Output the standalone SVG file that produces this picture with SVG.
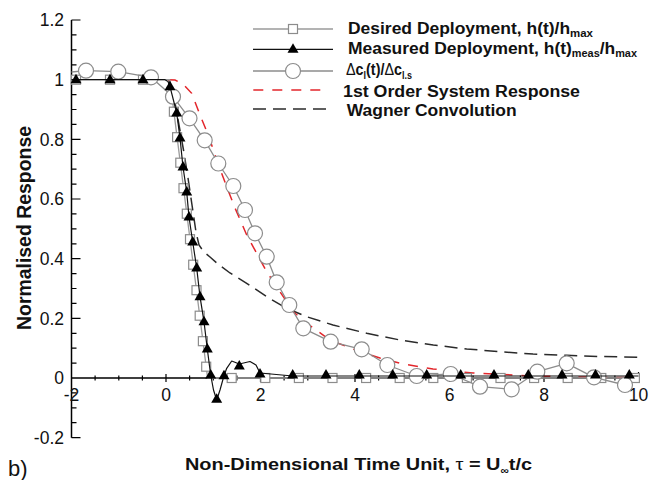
<svg xmlns="http://www.w3.org/2000/svg" xmlns:xlink="http://www.w3.org/1999/xlink" width="651" height="480" viewBox="0 0 651 480">
<style>
text{font-family:"Liberation Sans",Arial,sans-serif;fill:#111}
.tick{font-size:17.5px}
.title{font-weight:bold}
.leg{font-size:16px;font-weight:bold}
.axis{stroke:#000;stroke-width:1.5;fill:none}
.tk{stroke:#000;stroke-width:1.2;fill:none}
.ldes{stroke:#9a9a9a;stroke-width:1.3;fill:none;stroke-linejoin:round}
.lmeas{stroke:#111;stroke-width:1.2;fill:none;stroke-linejoin:round}
.ldcl{stroke:#8c8c8c;stroke-width:1.3;fill:none;stroke-linejoin:round}
.lfirst{stroke:#e3262b;stroke-width:1.5;fill:none;stroke-dasharray:10 9}
.lwag{stroke:#2a2a2a;stroke-width:1.5;fill:none;stroke-dasharray:13 7}
.msq{fill:#fff;stroke:#8c8c8c;stroke-width:1.2}
.mci{fill:#fff;stroke:#8c8c8c;stroke-width:1.2}
.mtr{fill:#000}
</style>
<defs>
<rect id="sq" x="-4.5" y="-4.5" width="9" height="9"/>
<circle id="ci" r="7.5"/>
<path id="tr" d="M0,-6 L5.5,3.5 L-5.5,3.5 Z"/>
</defs>

<g id="axes">
<path class="axis" d="M71.5,20 V437.7 M71.5,378 H640"/>
<path class="tk" d="M71.5,20 h9 M71.5,79.7 h9 M71.5,139.4 h9 M71.5,199 h9 M71.5,258.7 h9 M71.5,318.3 h9 M71.5,437.7 h9
M71.5,34.9 h5 M71.5,49.9 h5 M71.5,64.8 h5 M71.5,94.6 h5 M71.5,109.5 h5 M71.5,124.4 h5 M71.5,154.3 h5 M71.5,169.2 h5 M71.5,184.1 h5 M71.5,213.9 h5 M71.5,228.9 h5 M71.5,243.8 h5 M71.5,273.6 h5 M71.5,288.5 h5 M71.5,303.4 h5 M71.5,333.3 h5 M71.5,348.2 h5 M71.5,363.1 h5 M71.5,392.9 h5 M71.5,407.8 h5 M71.5,422.7 h5
M166,374 v8 M260.5,374 v8 M355,374 v8 M449.5,374 v8 M544,374 v8 M638.5,372 v9
M95.1,375.5 v5 M118.8,375.5 v5 M142.4,375.5 v5 M189.6,375.5 v5 M213.3,375.5 v5 M236.9,375.5 v5 M284.1,375.5 v5 M307.8,375.5 v5 M331.4,375.5 v5 M378.6,375.5 v5 M402.3,375.5 v5 M425.9,375.5 v5 M473.1,375.5 v5 M496.8,375.5 v5 M520.4,375.5 v5 M567.6,375.5 v5 M591.3,375.5 v5 M614.9,375.5 v5"/>
<g class="tick" text-anchor="end">
<text x="64" y="26.3">1.2</text>
<text x="64" y="86">1</text>
<text x="64" y="145.7">0.8</text>
<text x="64" y="205.3">0.6</text>
<text x="64" y="265">0.4</text>
<text x="64" y="324.6">0.2</text>
<text x="64" y="384.3">0</text>
<text x="64" y="444">-0.2</text>
</g>
<g class="tick" text-anchor="middle">
<text x="71.5" y="400.5">-2</text>
<text x="166" y="400.5">0</text>
<text x="260.5" y="400.5">2</text>
<text x="355" y="400.5">4</text>
<text x="449.5" y="400.5">6</text>
<text x="544" y="400.5">8</text>
<text x="638.5" y="400.5">10</text>
</g>
<text class="title" font-size="20" transform="rotate(-90)" x="-228" y="31" text-anchor="middle" textLength="204" lengthAdjust="spacingAndGlyphs">Normalised Response</text>
<text class="title" font-size="17" x="185" y="470" textLength="347" lengthAdjust="spacingAndGlyphs">Non-Dimensional Time Unit, <tspan font-weight="normal">τ</tspan> = U<tspan font-size="10" dy="4">∞</tspan><tspan dy="-4">t/c</tspan></text>
<text x="8" y="476" font-size="22">b)</text>
</g>

<g id="curve-wagner">
<polyline class="lwag" points="169,79.7 174.5,100 179,125 183.5,150 188,178 192,205 196,232 199,245 203.5,251.5 210,257 218,264 230,273 246.7,283.3 266.7,296.7 286.7,308.3 306.7,316.7 333,325 366.7,333.3 400,340 433.3,345 466.7,349 500,351.7 533,354 566.7,355.3 600,356.5 638.5,357.3"/>
</g>

<g id="curve-first-order">
<polyline class="lfirst" points="168,79.7 175,80 183,84 191.7,93.3 200,115 208.3,135 216.7,160 226.7,186.7 235,208 246.7,235 256.7,253.3 266.7,271.7 280,291.7 293.3,311.7 306.7,323.3 330,340 360,351.7 380,358 400,363.3 433,369 473,373 533,376 600,377.3 638.5,377.7"/>
</g>

<g id="series-desired">
<polyline class="ldes" points="71.5,79.7 169.8,79.7 207.6,378 638.5,378"/>
<g class="msq">
<use xlink:href="#sq" x="76" y="79.7"/><use xlink:href="#sq" x="110" y="79.7"/><use xlink:href="#sq" x="143" y="79.7"/>
<use xlink:href="#sq" x="173.9" y="111.7"/><use xlink:href="#sq" x="177.1" y="137.2"/><use xlink:href="#sq" x="180.3" y="162.7"/><use xlink:href="#sq" x="183.5" y="188.2"/><use xlink:href="#sq" x="186.8" y="213.7"/><use xlink:href="#sq" x="190" y="239.2"/><use xlink:href="#sq" x="193.2" y="264.7"/><use xlink:href="#sq" x="196.5" y="290.2"/><use xlink:href="#sq" x="199.7" y="315.7"/><use xlink:href="#sq" x="202.9" y="341.2"/><use xlink:href="#sq" x="206.2" y="366.7"/>
<use xlink:href="#sq" x="231.7" y="378"/><use xlink:href="#sq" x="265.3" y="378"/><use xlink:href="#sq" x="298.9" y="378"/><use xlink:href="#sq" x="332.5" y="378"/><use xlink:href="#sq" x="366.1" y="378"/><use xlink:href="#sq" x="399.7" y="378"/><use xlink:href="#sq" x="433.3" y="378"/><use xlink:href="#sq" x="466.9" y="378"/><use xlink:href="#sq" x="500.5" y="378"/><use xlink:href="#sq" x="534.1" y="378"/><use xlink:href="#sq" x="567.7" y="378"/><use xlink:href="#sq" x="601.3" y="378"/><use xlink:href="#sq" x="634.9" y="378"/>
</g>
</g>

<g id="series-dcl">
<polyline class="ldcl" points="71.5,72 86,70.7 118.3,71.7 151,77.3 173,96.7 189.5,118.3 204.7,140.3 218.3,163.5 233.3,186 245,210 255,233.3 266.7,256.7 276.7,282.3 289.3,305 303.3,328.3 330.7,341.7 361.7,349.3 387.3,365 416.7,376 450.7,374 480,386.7 511.7,389.3 537.3,371.7 566.7,363.3 594,377.3 625,385"/>
<g class="mci">
<use xlink:href="#ci" x="86" y="70.7"/><use xlink:href="#ci" x="118.3" y="71.7"/><use xlink:href="#ci" x="151" y="77.3"/><use xlink:href="#ci" x="173" y="96.7"/><use xlink:href="#ci" x="189.5" y="118.3"/><use xlink:href="#ci" x="204.7" y="140.3"/><use xlink:href="#ci" x="218.3" y="163.5"/><use xlink:href="#ci" x="233.3" y="186"/><use xlink:href="#ci" x="245" y="210"/><use xlink:href="#ci" x="255" y="233.3"/><use xlink:href="#ci" x="266.7" y="256.7"/><use xlink:href="#ci" x="276.7" y="282.3"/><use xlink:href="#ci" x="289.3" y="305"/><use xlink:href="#ci" x="303.3" y="328.3"/><use xlink:href="#ci" x="330.7" y="341.7"/><use xlink:href="#ci" x="361.7" y="349.3"/><use xlink:href="#ci" x="387.3" y="365"/><use xlink:href="#ci" x="416.7" y="376"/><use xlink:href="#ci" x="450.7" y="374"/><use xlink:href="#ci" x="480" y="386.7"/><use xlink:href="#ci" x="511.7" y="389.3"/><use xlink:href="#ci" x="537.3" y="371.7"/><use xlink:href="#ci" x="566.7" y="363.3"/><use xlink:href="#ci" x="594" y="377.3"/><use xlink:href="#ci" x="625" y="385"/>
</g>
</g>

<g id="series-measured">
<polyline class="lmeas" points="71.5,79.7 165,79.7 168,81.5 170,86.7 176.7,113 180,138 183,167 186.7,192 189,217 192.7,242 196.7,268 200,296.7 204,321.7 207.3,349 210.7,375 213.5,390 216.7,400 220,390 224,375.7 226.7,368.3 231.7,361 239.3,364 250,361.5 256,365 260,373 292.7,376 638.5,376"/>
<g class="mtr">
<use xlink:href="#tr" x="76" y="79.7"/><use xlink:href="#tr" x="110" y="79.7"/><use xlink:href="#tr" x="143" y="79.7"/>
<use xlink:href="#tr" x="170" y="86.7"/><use xlink:href="#tr" x="176.7" y="113"/><use xlink:href="#tr" x="180" y="138"/><use xlink:href="#tr" x="183" y="167"/><use xlink:href="#tr" x="186.7" y="192"/><use xlink:href="#tr" x="189" y="217"/><use xlink:href="#tr" x="192.7" y="242"/><use xlink:href="#tr" x="196.7" y="268"/><use xlink:href="#tr" x="200" y="296.7"/><use xlink:href="#tr" x="204" y="321.7"/><use xlink:href="#tr" x="207.3" y="349"/><use xlink:href="#tr" x="210.7" y="375"/>
<use xlink:href="#tr" x="216.7" y="399.3"/><use xlink:href="#tr" x="224" y="375.7"/><use xlink:href="#tr" x="239.3" y="366"/><use xlink:href="#tr" x="260" y="374"/><use xlink:href="#tr" x="292.7" y="375"/>
<use xlink:href="#tr" x="326" y="375"/><use xlink:href="#tr" x="359.3" y="375"/><use xlink:href="#tr" x="392.7" y="375"/><use xlink:href="#tr" x="426.7" y="375"/><use xlink:href="#tr" x="460.7" y="375"/><use xlink:href="#tr" x="494" y="375"/><use xlink:href="#tr" x="528.3" y="375"/><use xlink:href="#tr" x="562" y="375"/><use xlink:href="#tr" x="595.5" y="375"/><use xlink:href="#tr" x="629.3" y="375"/>
</g>
</g>

<g id="legend">
<line class="ldes" x1="253" y1="29" x2="333" y2="29"/>
<use xlink:href="#sq" x="293" y="29" class="msq"/>
<line class="lmeas" x1="253" y1="49.3" x2="333" y2="49.3"/>
<use xlink:href="#tr" x="293" y="49.3" class="mtr"/>
<line class="ldcl" x1="253" y1="71" x2="333" y2="71"/>
<use xlink:href="#ci" x="293" y="71" class="mci"/>
<line class="lfirst" x1="253.3" y1="90" x2="322" y2="90"/>
<line class="lwag" x1="253" y1="109" x2="327" y2="109"/>
<text class="leg" x="348" y="33.5" textLength="245" lengthAdjust="spacingAndGlyphs">Desired Deployment, h(t)/h<tspan font-size="10.5" dy="3.5">max</tspan></text>
<text class="leg" x="348" y="53.5" textLength="289" lengthAdjust="spacingAndGlyphs">Measured Deployment, h(t)<tspan font-size="10" dy="3">meas</tspan><tspan dy="-3">/h</tspan><tspan font-size="10" dy="3">max</tspan></text>
<text class="leg" x="346" y="75" textLength="66" lengthAdjust="spacingAndGlyphs"><tspan font-weight="normal">Δ</tspan>c<tspan font-size="10" dy="3.5">l</tspan><tspan dy="-3.5">(t)/</tspan><tspan font-weight="normal">Δ</tspan>c<tspan font-size="10" dy="3.5">l.s</tspan></text>
<text class="leg" x="343" y="96.7" textLength="237" lengthAdjust="spacingAndGlyphs">1st Order System Response</text>
<text class="leg" x="346.7" y="115.7" textLength="170" lengthAdjust="spacingAndGlyphs">Wagner Convolution</text>
</g>
</svg>
